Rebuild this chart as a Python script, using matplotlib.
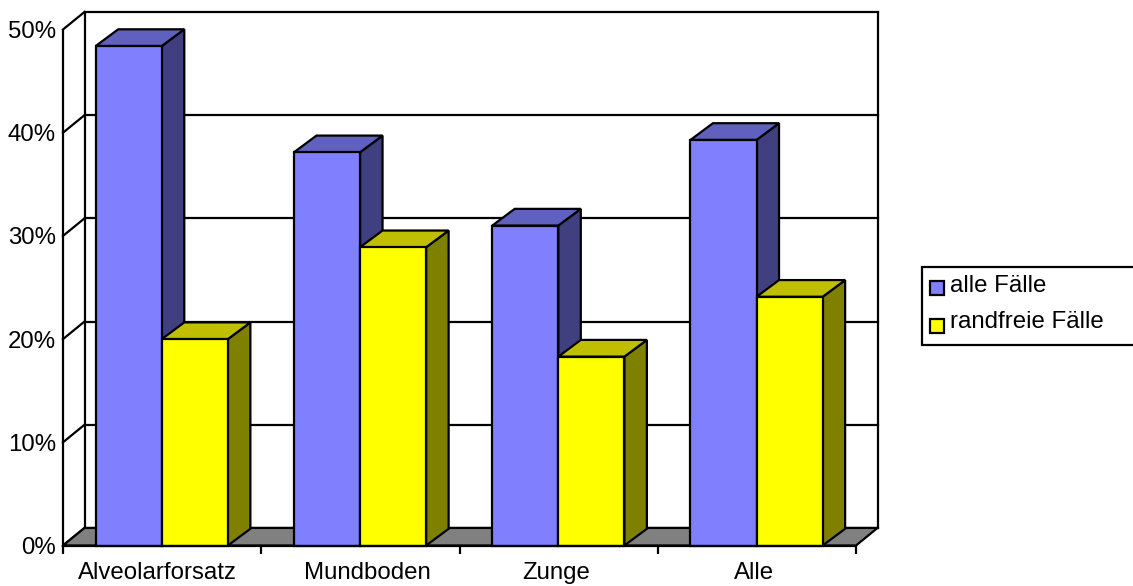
import matplotlib
matplotlib.use("Agg")
import matplotlib.pyplot as plt
from matplotlib.patches import Polygon, Rectangle

plt.rcParams['font.family'] = ['Liberation Sans', 'DejaVu Sans']

categories = ["Alveolarforsatz", "Mundboden", "Zunge", "Alle"]
alle_faelle = [48.4, 38.1, 31.0, 39.3]
randfreie_faelle = [20.0, 28.9, 18.3, 24.1]
y_ticks = [0, 10, 20, 30, 40, 50]
series_names = ["alle Fälle", "randfreie Fälle"]

W, H = 1133, 586
FONT = 17.3
LW = 1.6

# front, top and side shades of each series
BLUE = ("#8080ff", "#6060bf", "#404080")
YELLOW = ("#ffff00", "#bfbf00", "#808000")

# depth of the 3D box and of the bars, in data units
WALL_DX, WALL_DY = 0.1085, 1.70
BAR_DX, BAR_DY = 0.1135, 1.62
BAR_W = 1 / 3

# label centres within each category slot
LABEL_POS = [0.478, 0.535, 0.49, 0.485]

fig = plt.figure(figsize=(W / 100, H / 100), dpi=100)
ax = fig.add_axes([63 / W, 1 - 545.5 / H, 793 / W, 516 / H])
ax.set_xlim(0, len(categories))
ax.set_ylim(0, 50)


def face(points, color, z):
    ax.add_patch(Polygon(points, closed=True, facecolor=color, edgecolor="black",
                         linewidth=LW, joinstyle="miter", clip_on=False, zorder=z))


def wall_line(xs, ys, z=1):
    ax.plot(xs, ys, color="black", lw=LW, clip_on=False, zorder=z,
            solid_capstyle="projecting")


def bar_3d(x, value, colors, z):
    front, top, side = colors
    face([(x + BAR_W, 0), (x + BAR_W + BAR_DX, BAR_DY),
          (x + BAR_W + BAR_DX, value + BAR_DY), (x + BAR_W, value)], side, z)
    face([(x, value), (x + BAR_W, value),
          (x + BAR_W + BAR_DX, value + BAR_DY), (x + BAR_DX, value + BAR_DY)], top, z)
    face([(x, 0), (x + BAR_W, 0), (x + BAR_W, value), (x, value)], front, z)


n = len(categories)

# back wall with gridlines, left wall, floor
for t in y_ticks:
    wall_line([WALL_DX, n + WALL_DX], [t + WALL_DY, t + WALL_DY])
    wall_line([0, WALL_DX], [t, t + WALL_DY])
wall_line([WALL_DX, WALL_DX], [WALL_DY, 50 + WALL_DY])
wall_line([n + WALL_DX, n + WALL_DX], [WALL_DY, 50 + WALL_DY])
wall_line([0, 0], [0, 50], z=8)
face([(0, 0), (n, 0), (n + WALL_DX, WALL_DY), (WALL_DX, WALL_DY)], "#808080", 2)

for i in range(n):
    x0 = i + 0.165
    bar_3d(x0, alle_faelle[i], BLUE, 3 + 2 * i)
    bar_3d(x0 + BAR_W, randfreie_faelle[i], YELLOW, 4 + 2 * i)
wall_line([0, n], [0, 0], z=20)

for s in ax.spines.values():
    s.set_visible(False)
ax.patch.set_visible(False)

ax.set_yticks(y_ticks)
ax.set_yticklabels([f"{t}%" for t in y_ticks], fontsize=FONT)
ax.tick_params(axis="y", length=0, pad=5)
ax.set_xticks(range(n + 1))
ax.set_xticklabels([])
ax.tick_params(axis="x", which="major", length=5.5, width=LW, color="black")
ax.set_xticks([i + p for i, p in enumerate(LABEL_POS)], minor=True)
ax.set_xticklabels(categories, minor=True, fontsize=FONT)
ax.tick_params(axis="x", which="minor", length=0, pad=12)

# legend box runs off the right edge of the figure
fig.add_artist(Rectangle((921.5 / W, 1 - 344.5 / H), 240 / W, 77.5 / H, transform=fig.transFigure,
                         facecolor="white", edgecolor="black", linewidth=LW))
for name, color, sy, ty in zip(series_names, (BLUE[0], YELLOW[0]), (288, 325.5), (285.5, 322)):
    fig.add_artist(Rectangle((930 / W, 1 - (sy + 7) / H), 14 / W, 14 / H, transform=fig.transFigure,
                             facecolor=color, edgecolor="black", linewidth=LW))
    fig.text(950 / W, 1 - ty / H, name, fontsize=FONT, va="center", ha="left")

fig.savefig("out.png", dpi=100)
